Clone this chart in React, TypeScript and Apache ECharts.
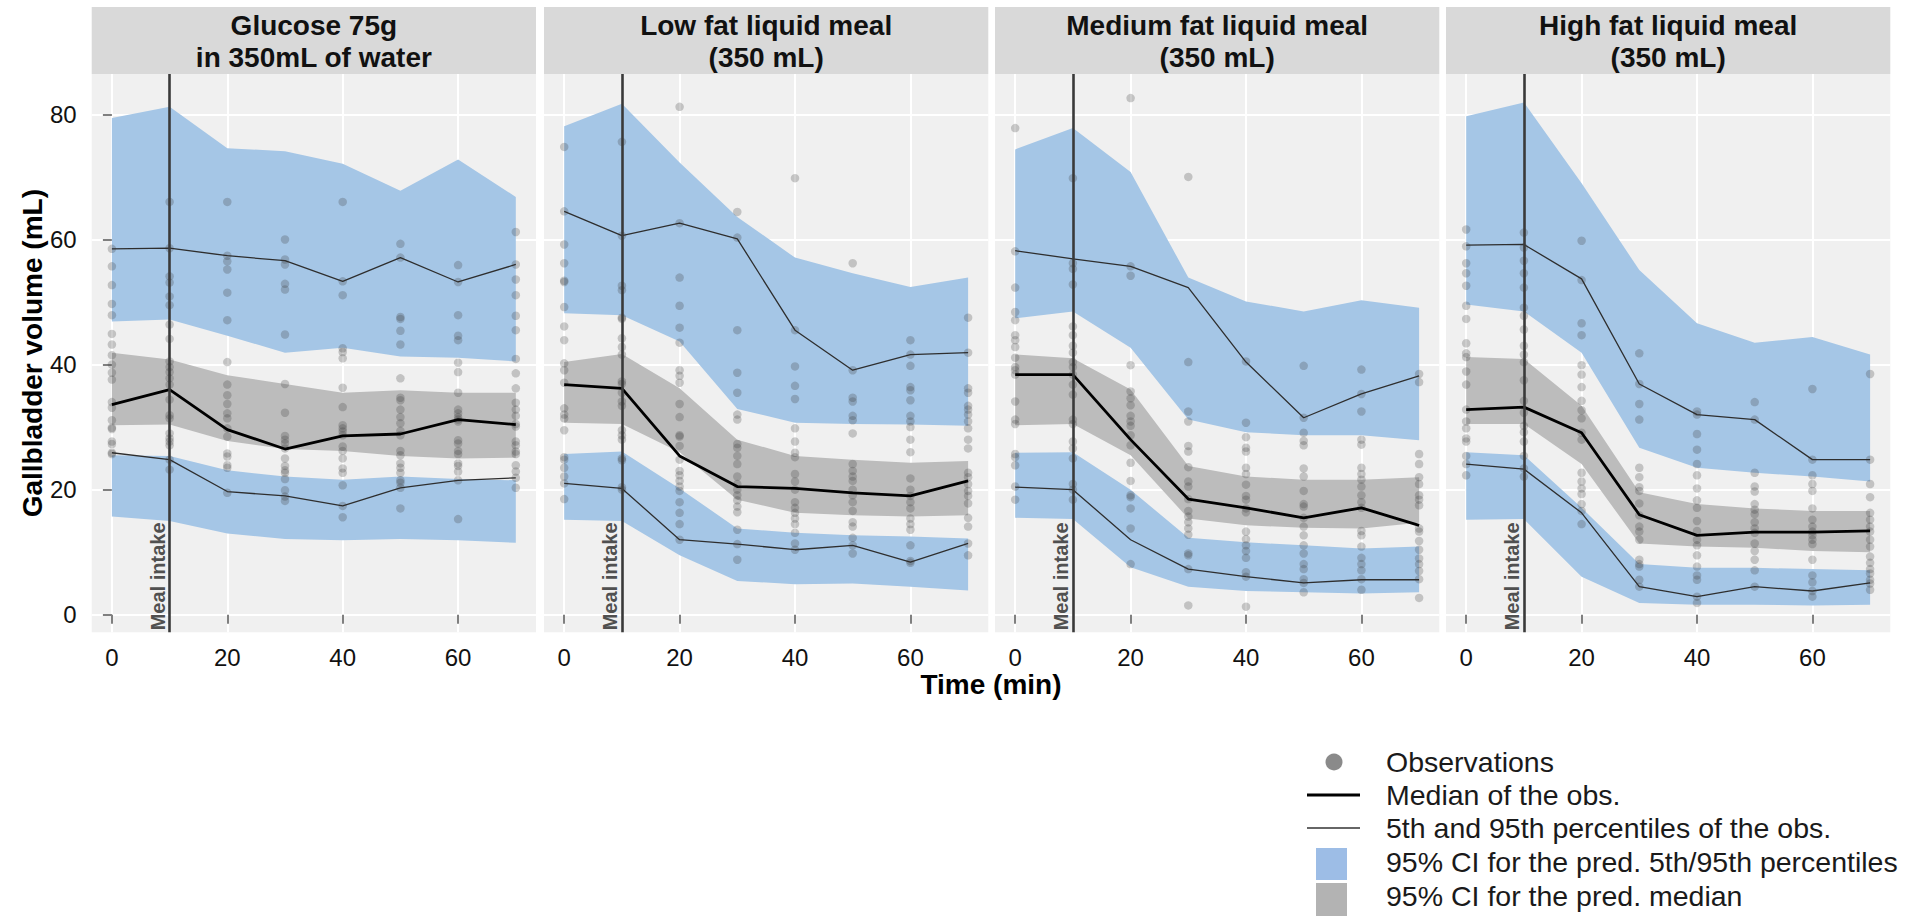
import { useEffect, useRef } from "react";
import * as echarts from "echarts";

// Sampling times (min) and meal time
const TIMES = [0, 10, 20, 30, 40, 50, 60, 70];
const MEAL_TIME = 10;
const X_TICKS = [0, 20, 40, 60];
const Y_TICKS = [0, 20, 40, 60, 80];
const X_MIN = -3.5;
const X_MAX = 73.5;
const Y_MIN = -2.8;
const Y_MAX = 86.45;

const PANEL_TITLES = [
  "Glucose 75g\nin 350mL of water",
  "Low fat liquid meal\n(350 mL)",
  "Medium fat liquid meal\n(350 mL)",
  "High fat liquid meal\n(350 mL)",
];

// ---- Glucose 75g ----
const glucoseP95Hi = [79.4, 81.2, 74.6, 74.1, 72.1, 67.8, 72.8, 66.8];
const glucoseP95Lo = [46.9, 47.2, 44.6, 41.9, 42.7, 41.3, 41.1, 40.5];
const glucoseMedHi = [41.9, 40.8, 38.3, 36.9, 35.5, 35.9, 35.5, 35.5];
const glucoseMedLo = [30.3, 30.4, 27.8, 26.5, 26.2, 25.4, 25.0, 25.1];
const glucoseP5Hi = [25.5, 25.4, 23.1, 22.1, 21.6, 22.1, 21.7, 21.5];
const glucoseP5Lo = [15.7, 15.0, 13.0, 12.1, 11.9, 12.1, 11.9, 11.5];
const glucoseObsMedian = [33.6, 36.0, 29.6, 26.5, 28.6, 28.9, 31.2, 30.4];
const glucoseObsP95 = [58.5, 58.6, 57.4, 56.6, 53.3, 57.1, 53.2, 56.0];
const glucoseObsP5 = [25.9, 24.8, 19.7, 19.0, 17.4, 20.3, 21.5, 21.9];
const glucoseObs = [
  [58.5, 55.7, 52.7, 49.7, 47.9, 44.9, 43.2, 41.5, 40.0, 38.7, 37.6, 34.0, 33.1, 31.1, 29.9, 29.7, 27.7, 27.3, 25.9, 25.7],
  [66.0, 58.6, 54.1, 53.1, 50.9, 49.5, 46.4, 44.1, 40.5, 39.6, 38.8, 37.8, 36.8, 34.4, 31.9, 31.4, 29.0, 28.2, 27.7, 27.1, 24.8, 23.2],
  [66.0, 57.4, 56.5, 55.2, 51.5, 47.1, 40.4, 36.8, 35.1, 33.7, 32.2, 31.4, 29.8, 28.5, 25.8, 25.3, 23.9, 23.5, 19.5],
  [60.0, 56.8, 56.0, 52.9, 52.0, 44.8, 36.9, 32.3, 28.6, 28.0, 27.4, 26.6, 25.0, 23.8, 23.1, 22.7, 21.7, 19.9, 18.9, 18.2],
  [66.0, 53.3, 51.1, 42.6, 42.0, 41.0, 36.3, 33.2, 30.3, 29.8, 29.3, 28.7, 26.9, 26.2, 25.0, 23.4, 22.7, 20.7, 17.4, 15.6],
  [59.3, 57.1, 47.6, 47.3, 45.4, 43.2, 37.8, 34.7, 34.3, 32.8, 31.6, 30.6, 29.4, 28.7, 26.2, 25.5, 24.2, 23.5, 22.7, 21.5, 21.1, 20.3, 17.0],
  [55.9, 53.2, 47.9, 44.6, 43.9, 40.3, 38.8, 35.5, 32.8, 32.2, 31.6, 31.2, 30.9, 27.9, 27.4, 26.2, 25.7, 24.2, 23.8, 22.9, 21.5, 15.3],
  [61.2, 56.0, 53.6, 51.1, 47.8, 45.5, 40.9, 38.6, 36.2, 33.9, 32.8, 31.8, 30.5, 30.1, 27.7, 27.1, 26.1, 25.7, 23.9, 22.9, 21.9, 20.3],
];

// ---- Low fat liquid meal ----
const lowFatP95Hi = [78.1, 81.7, 72.3, 63.6, 57.1, 54.6, 52.4, 53.9];
const lowFatP95Lo = [48.2, 47.9, 43.7, 32.9, 30.7, 30.5, 30.4, 30.2];
const lowFatMedHi = [40.4, 41.7, 36.2, 28.0, 25.4, 24.8, 24.3, 24.6];
const lowFatMedLo = [30.7, 30.5, 26.0, 18.4, 16.3, 15.9, 15.7, 15.9];
const lowFatP5Hi = [25.7, 26.1, 20.2, 13.8, 13.1, 12.7, 12.5, 12.2];
const lowFatP5Lo = [15.2, 15.0, 9.5, 5.4, 4.9, 5.0, 4.5, 3.9];
const lowFatObsMedian = [36.8, 36.2, 25.4, 20.5, 20.2, 19.5, 19.0, 21.4];
const lowFatObsP95 = [64.5, 60.6, 62.6, 60.1, 45.5, 39.1, 41.6, 41.9];
const lowFatObsP5 = [21.0, 20.2, 12.0, 11.3, 10.4, 11.1, 8.4, 11.4];
const lowFatObs = [
  [74.8, 64.5, 59.2, 56.2, 53.4, 53.2, 49.2, 46.1, 43.9, 40.2, 39.1, 37.1, 33.0, 32.0, 31.4, 29.5, 25.2, 24.8, 23.5, 22.1, 21.0, 18.5],
  [75.6, 60.6, 52.6, 51.9, 47.5, 47.3, 44.2, 42.8, 41.6, 37.3, 36.9, 35.5, 34.1, 33.4, 29.5, 28.7, 28.0, 25.0, 24.7, 20.4, 20.0],
  [81.2, 62.6, 53.9, 49.4, 45.9, 43.5, 39.1, 38.2, 37.1, 33.7, 31.6, 28.7, 28.5, 27.0, 24.8, 23.0, 22.3, 21.4, 20.5, 19.8, 18.0, 16.3, 14.5, 12.0],
  [64.4, 60.3, 45.5, 38.7, 35.5, 32.0, 31.2, 27.3, 26.7, 25.4, 24.1, 22.1, 20.9, 20.0, 19.1, 18.3, 17.3, 16.4, 13.6, 11.3, 8.8],
  [69.8, 45.5, 39.7, 36.6, 34.5, 29.8, 27.7, 25.9, 25.2, 22.5, 21.3, 20.0, 18.0, 17.1, 16.3, 15.4, 14.5, 13.1, 11.4, 10.4],
  [56.2, 39.1, 34.7, 34.1, 31.8, 31.1, 29.0, 24.1, 23.0, 22.1, 21.4, 20.0, 19.1, 18.0, 16.6, 14.8, 14.1, 12.3, 11.1, 9.8],
  [43.9, 41.6, 39.8, 36.4, 35.9, 34.3, 31.8, 30.9, 30.0, 28.0, 26.0, 21.8, 20.0, 19.0, 18.0, 17.0, 15.4, 14.5, 13.6, 11.1, 8.6, 8.3],
  [47.5, 41.9, 36.2, 35.5, 33.4, 32.8, 32.0, 30.9, 29.8, 28.0, 26.6, 22.7, 22.0, 20.9, 19.8, 19.0, 17.8, 15.5, 14.1, 11.4, 9.5],
];

// ---- Medium fat liquid meal ----
const medFatP95Hi = [74.4, 77.8, 70.8, 53.9, 50.1, 48.5, 50.3, 49.1];
const medFatP95Lo = [47.4, 48.5, 42.7, 31.2, 29.2, 28.7, 28.7, 27.9];
const medFatMedHi = [41.6, 41.0, 36.0, 23.8, 22.1, 21.6, 21.6, 22.0];
const medFatMedLo = [30.3, 30.5, 25.5, 15.4, 14.3, 13.9, 13.8, 14.7];
const medFatP5Hi = [25.9, 26.0, 20.0, 12.3, 11.6, 11.1, 10.6, 10.9];
const medFatP5Lo = [15.5, 15.3, 7.6, 4.5, 3.8, 3.6, 3.4, 3.6];
const medFatObsMedian = [38.4, 38.4, 28.0, 18.5, 17.1, 15.5, 17.1, 14.3];
const medFatObsP95 = [58.2, 56.9, 55.7, 52.3, 40.4, 31.5, 35.3, 38.2];
const medFatObsP5 = [20.4, 20.0, 12.0, 7.3, 6.1, 5.1, 5.6, 5.6];
const medFatObs = [
  [77.8, 58.1, 52.3, 48.4, 47.1, 44.7, 43.9, 42.8, 41.1, 39.6, 39.1, 38.4, 34.1, 31.2, 30.5, 25.7, 25.2, 23.9, 20.5, 18.4],
  [69.8, 56.2, 55.3, 52.8, 46.1, 44.7, 43.0, 41.9, 40.4, 39.6, 38.4, 36.8, 35.2, 31.2, 30.5, 27.7, 26.6, 25.0, 20.9, 20.0, 18.4],
  [82.6, 55.7, 54.2, 39.9, 35.7, 34.6, 33.5, 31.8, 30.9, 30.2, 28.7, 27.1, 24.3, 21.4, 19.1, 18.8, 17.0, 13.8, 8.1],
  [70.0, 40.4, 32.5, 30.9, 27.0, 26.1, 23.6, 21.3, 20.5, 18.5, 16.6, 15.7, 14.8, 13.8, 12.8, 9.8, 9.5, 7.3, 1.5],
  [40.5, 30.7, 28.4, 26.7, 26.1, 23.5, 22.5, 20.8, 19.0, 18.4, 17.0, 16.4, 13.3, 12.1, 11.1, 10.2, 9.1, 6.8, 6.1, 1.3],
  [39.8, 31.5, 29.1, 27.8, 27.1, 23.4, 22.1, 19.8, 17.7, 17.3, 15.5, 14.1, 12.7, 11.1, 9.8, 8.1, 7.3, 5.7, 5.1, 3.6],
  [39.2, 35.3, 32.5, 28.0, 27.2, 23.5, 22.5, 21.6, 20.5, 19.1, 18.0, 17.1, 13.4, 12.7, 10.9, 9.1, 8.1, 7.1, 5.7, 4.0],
  [38.5, 37.2, 25.7, 24.1, 22.0, 20.9, 19.1, 18.4, 17.5, 13.8, 13.3, 11.8, 10.4, 9.0, 8.1, 7.0, 5.7, 2.7],
];

// ---- High fat liquid meal ----
const highFatP95Hi = [79.7, 81.9, 69.0, 55.1, 46.6, 43.5, 44.4, 41.6];
const highFatP95Lo = [49.6, 48.5, 41.9, 26.7, 23.5, 22.7, 22.1, 21.3];
const highFatMedHi = [41.2, 40.9, 33.4, 19.6, 17.7, 17.0, 16.6, 16.6];
const highFatMedLo = [30.5, 30.5, 24.1, 11.4, 10.9, 10.7, 10.2, 10.0];
const highFatP5Hi = [26.0, 25.5, 17.1, 8.1, 7.5, 7.5, 7.3, 7.1];
const highFatP5Lo = [15.2, 15.3, 6.1, 1.9, 1.6, 1.6, 1.5, 1.6];
const highFatObsMedian = [32.8, 33.2, 29.1, 16.0, 12.7, 13.2, 13.2, 13.4];
const highFatObsP95 = [59.1, 59.2, 53.7, 36.9, 32.0, 31.2, 24.8, 24.8];
const highFatObsP5 = [24.1, 23.3, 16.3, 4.5, 2.9, 4.5, 3.8, 5.1];
const highFatObs = [
  [61.6, 58.9, 56.2, 54.6, 52.6, 49.4, 47.3, 43.4, 41.8, 41.2, 38.9, 36.8, 32.8, 30.9, 29.8, 28.2, 27.7, 25.4, 24.1, 22.3],
  [61.1, 58.7, 56.6, 54.6, 52.3, 49.1, 47.8, 45.6, 43.0, 41.6, 40.4, 37.5, 34.2, 32.3, 30.2, 29.2, 27.7, 25.4, 23.4, 22.1],
  [59.8, 53.5, 46.6, 44.7, 39.9, 38.4, 36.4, 34.2, 32.7, 31.4, 29.1, 28.0, 22.7, 21.3, 20.2, 19.3, 17.7, 16.6, 14.5],
  [41.8, 36.9, 33.7, 31.2, 23.5, 22.0, 20.4, 19.8, 17.8, 15.9, 14.1, 13.3, 12.0, 8.8, 8.1, 7.7, 5.6, 4.5],
  [32.5, 32.0, 28.9, 26.4, 24.1, 22.3, 20.2, 18.3, 17.1, 15.0, 13.4, 12.0, 11.1, 9.5, 7.7, 6.3, 5.6, 2.9, 1.9],
  [34.0, 31.2, 22.7, 20.5, 19.7, 17.7, 16.8, 16.1, 14.8, 13.8, 13.1, 11.4, 10.2, 8.8, 7.1, 4.5],
  [36.1, 24.8, 22.3, 20.9, 19.8, 17.0, 15.2, 14.1, 13.3, 12.7, 12.0, 11.3, 8.8, 6.3, 5.2, 3.8, 2.9],
  [38.5, 24.8, 20.9, 18.8, 16.3, 15.2, 14.1, 13.3, 12.0, 10.9, 9.3, 8.3, 7.3, 6.6, 5.6, 5.0, 4.0],
];

const LEGEND_LABELS = [
  "Observations",
  "Median of the obs.",
  "5th and 95th percentiles of the obs.",
  "95% CI for the pred. 5th/95th percentiles",
  "95% CI for the pred. median",
];

const panels = [
  { p95Hi: glucoseP95Hi, p95Lo: glucoseP95Lo, medHi: glucoseMedHi, medLo: glucoseMedLo, p5Hi: glucoseP5Hi, p5Lo: glucoseP5Lo, median: glucoseObsMedian, p95: glucoseObsP95, p5: glucoseObsP5, obs: glucoseObs },
  { p95Hi: lowFatP95Hi, p95Lo: lowFatP95Lo, medHi: lowFatMedHi, medLo: lowFatMedLo, p5Hi: lowFatP5Hi, p5Lo: lowFatP5Lo, median: lowFatObsMedian, p95: lowFatObsP95, p5: lowFatObsP5, obs: lowFatObs },
  { p95Hi: medFatP95Hi, p95Lo: medFatP95Lo, medHi: medFatMedHi, medLo: medFatMedLo, p5Hi: medFatP5Hi, p5Lo: medFatP5Lo, median: medFatObsMedian, p95: medFatObsP95, p5: medFatObsP5, obs: medFatObs },
  { p95Hi: highFatP95Hi, p95Lo: highFatP95Lo, medHi: highFatMedHi, medLo: highFatMedLo, p5Hi: highFatP5Hi, p5Lo: highFatP5Lo, median: highFatObsMedian, p95: highFatObsP95, p5: highFatObsP5, obs: highFatObs },
];

// Layout
const FONT = "'Liberation Sans', Arial, Helvetica, sans-serif";
const PANEL_LEFTS = [91.7, 544, 995, 1446];
const PANEL_WIDTH = 444.3;
const PANEL_TOP = 74;
const PANEL_HEIGHT = 558.3;
const STRIP_TOP = 7;

const BLUE = "#a5c6e6";
const GREY_BAND = "#bcbcbc";
const PANEL_BG = "#f0f0f0";
const STRIP_BG = "#d9d9d9";

function bandSeries(idx: number, lo: number[], hi: number[], color: string) {
  const rows = TIMES.map((t, i) => [t, lo[i], hi[i]]);
  return {
    type: "custom",
    xAxisIndex: idx,
    yAxisIndex: idx,
    z: 1,
    silent: true,
    data: rows,
    renderItem: (params: any, api: any) => {
      if (params.dataIndex !== 0) return null;
      const upper = rows.map((r) => api.coord([r[0], r[2]]));
      const lower = rows.map((r) => api.coord([r[0], r[1]])).reverse();
      return {
        type: "polygon",
        shape: { points: upper.concat(lower) },
        style: { fill: color },
      };
    },
  };
}

function lineData(values: number[]) {
  return TIMES.map((t, i) => [t, values[i]]);
}

function buildOption() {
  const grid: any[] = [];
  const xAxis: any[] = [];
  const yAxis: any[] = [];
  const series: any[] = [];
  const graphic: any[] = [];

  panels.forEach((p, i) => {
    grid.push({
      left: PANEL_LEFTS[i],
      top: PANEL_TOP,
      width: PANEL_WIDTH,
      height: PANEL_HEIGHT,
      show: true,
      backgroundColor: PANEL_BG,
      borderWidth: 0,
    });
    xAxis.push({
      type: "value",
      gridIndex: i,
      min: X_MIN,
      max: X_MAX,
      axisLine: { show: false },
      axisTick: { show: true, customValues: X_TICKS, length: 9, lineStyle: { color: "#7f7f7f", width: 2 } },
      axisLabel: { customValues: X_TICKS, margin: 13, fontSize: 24, color: "#111", fontFamily: FONT },
      splitLine: { show: true, lineStyle: { color: "#ffffff", width: 2 } },
    });
    yAxis.push({
      type: "value",
      gridIndex: i,
      min: Y_MIN,
      max: Y_MAX,
      axisLine: { show: false },
      axisTick: { show: i === 0, customValues: Y_TICKS, length: 9, lineStyle: { color: "#7f7f7f", width: 2 } },
      axisLabel: { show: i === 0, customValues: Y_TICKS, margin: 15, fontSize: 24, color: "#111", fontFamily: FONT },
      splitLine: { show: true, lineStyle: { color: "#ffffff", width: 2 } },
    });

    series.push(bandSeries(i, p.p95Lo, p.p95Hi, BLUE));
    series.push(bandSeries(i, p.p5Lo, p.p5Hi, BLUE));
    series.push(bandSeries(i, p.medLo, p.medHi, GREY_BAND));

    const pts: number[][] = [];
    p.obs.forEach((vals, k) => vals.forEach((v) => pts.push([TIMES[k], v])));
    series.push({
      type: "scatter",
      name: "Observations",
      xAxisIndex: i,
      yAxisIndex: i,
      z: 2,
      silent: true,
      symbolSize: 8.5,
      itemStyle: { color: "rgba(60,60,60,0.32)" },
      data: pts,
    });

    series.push({
      type: "line",
      name: "5th percentile of the obs.",
      xAxisIndex: i,
      yAxisIndex: i,
      z: 3,
      silent: true,
      symbol: "none",
      lineStyle: { color: "#2e2e2e", width: 1.3 },
      data: lineData(p.p5),
    });
    series.push({
      type: "line",
      name: "95th percentile of the obs.",
      xAxisIndex: i,
      yAxisIndex: i,
      z: 3,
      silent: true,
      symbol: "none",
      lineStyle: { color: "#2e2e2e", width: 1.3 },
      data: lineData(p.p95),
    });
    series.push({
      type: "line",
      name: "Median of the obs.",
      xAxisIndex: i,
      yAxisIndex: i,
      z: 4,
      silent: true,
      symbol: "none",
      lineStyle: { color: "#000000", width: 2.8 },
      data: lineData(p.median),
      markLine: {
        silent: true,
        symbol: ["none", "none"],
        animation: false,
        lineStyle: { color: "#3a3a3a", width: 2.6, type: "solid" },
        emphasis: { disabled: true },
        label: {
          show: true,
          formatter: "Meal intake",
          position: "insideStartTop",
          distance: 2,
          color: "#505050",
          fontSize: 20,
          fontWeight: "bold",
          fontFamily: FONT,
        },
        data: [[{ coord: [MEAL_TIME, Y_MIN] }, { coord: [MEAL_TIME, Y_MAX] }]],
      },
    });

    // strip header
    graphic.push({
      type: "rect",
      left: PANEL_LEFTS[i],
      top: STRIP_TOP,
      shape: { width: PANEL_WIDTH, height: PANEL_TOP - STRIP_TOP },
      style: { fill: STRIP_BG },
      silent: true,
    });
    graphic.push({
      type: "text",
      x: PANEL_LEFTS[i] + PANEL_WIDTH / 2,
      y: (STRIP_TOP + PANEL_TOP) / 2 + 1,
      silent: true,
      style: {
        text: PANEL_TITLES[i],
        font: `bold 28px ${FONT}`,
        fill: "#111",
        align: "center",
        verticalAlign: "middle",
        lineHeight: 32,
      },
    });
  });

  // axis titles
  graphic.push({
    type: "text",
    x: 32,
    y: PANEL_TOP + PANEL_HEIGHT / 2,
    rotation: Math.PI / 2,
    silent: true,
    style: {
      text: "Gallbladder volume (mL)",
      font: `bold 28px ${FONT}`,
      fill: "#000",
      align: "center",
      verticalAlign: "middle",
    },
  });
  graphic.push({
    type: "text",
    x: 991,
    y: 684,
    silent: true,
    style: {
      text: "Time (min)",
      font: `bold 28px ${FONT}`,
      fill: "#000",
      align: "center",
      verticalAlign: "middle",
    },
  });

  // legend
  const rowY = [762, 795, 828, 862, 896];
  const textX = 1386;
  graphic.push({ type: "circle", shape: { cx: 1334, cy: rowY[0], r: 8.5 }, style: { fill: "#8a8a8a" }, silent: true });
  graphic.push({ type: "line", shape: { x1: 1307, y1: 795, x2: 1360, y2: 795 }, style: { stroke: "#000", lineWidth: 3 }, silent: true });
  graphic.push({ type: "line", shape: { x1: 1307, y1: 828, x2: 1360, y2: 828 }, style: { stroke: "#333", lineWidth: 1.6 }, silent: true });
  graphic.push({ type: "rect", shape: { x: 1316, y: 848, width: 31, height: 32 }, style: { fill: "#9dbde6" }, silent: true });
  graphic.push({ type: "rect", shape: { x: 1316, y: 883, width: 31, height: 33 }, style: { fill: "#b3b3b3" }, silent: true });
  LEGEND_LABELS.forEach((label, k) => {
    graphic.push({
      type: "text",
      x: textX,
      y: rowY[k],
      silent: true,
      style: {
        text: label,
        font: `28.5px ${FONT}`,
        fill: "#1a1a1a",
        align: "left",
        verticalAlign: "middle",
      },
    });
  });

  return {
    animation: false,
    backgroundColor: "#ffffff",
    grid,
    xAxis,
    yAxis,
    series,
    graphic,
  };
}

export default function App() {
  const ref = useRef<HTMLDivElement>(null);
  useEffect(() => {
    if (!ref.current) return;
    const chart = echarts.init(ref.current, undefined, { renderer: "svg" });
    chart.setOption(buildOption() as any);
    return () => chart.dispose();
  }, []);
  return (
    <div
      ref={ref}
      style={{ position: "absolute", left: 0, top: 0, width: 1915, height: 916 }}
    />
  );
}
